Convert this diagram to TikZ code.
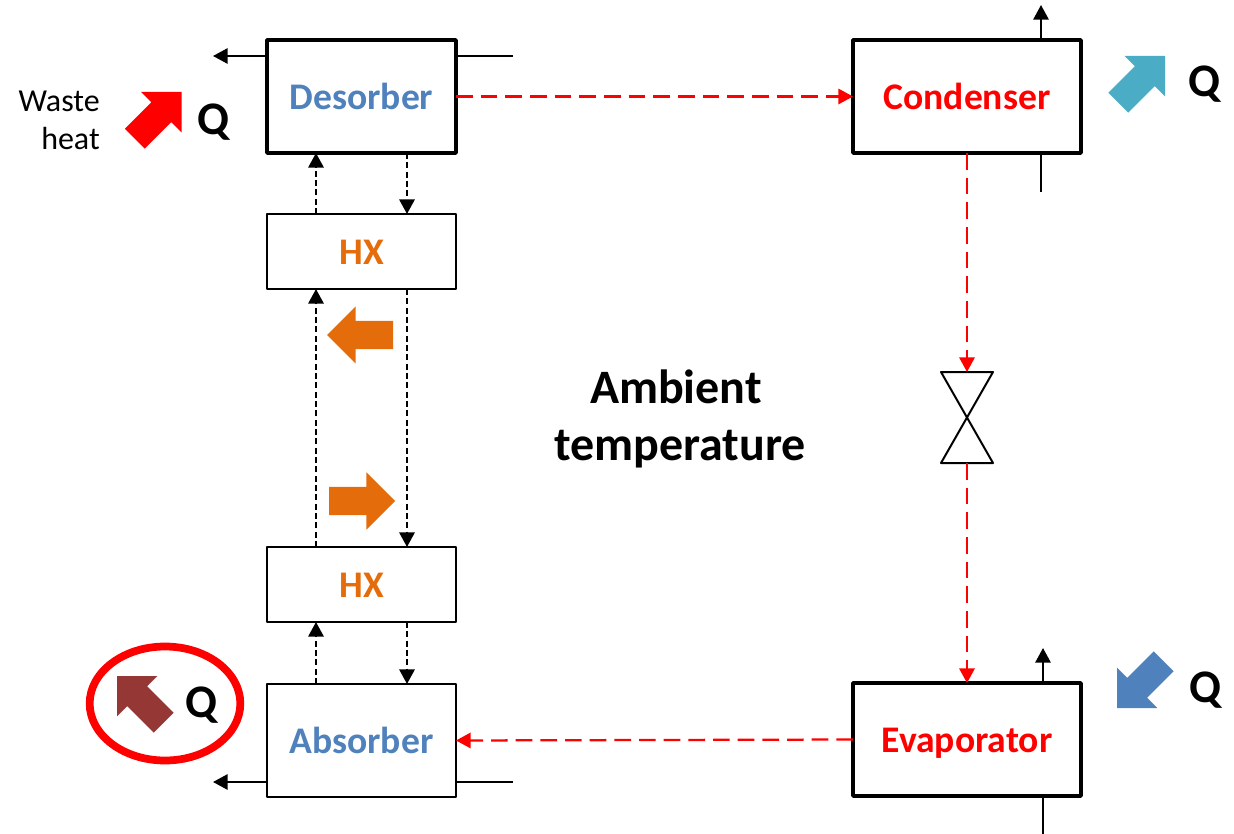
\documentclass[tikz,border=0pt]{standalone}
\usepackage{fontspec}
\setmainfont{Carlito}
\usetikzlibrary{positioning,arrows.meta,shapes.geometric,shapes.arrows}
\definecolor{unitblue}{HTML}{4F81BD}
\definecolor{hxorange}{HTML}{E46C0A}
\definecolor{coolteal}{HTML}{4BACC6}
\definecolor{rejectbrown}{HTML}{953735}

\begin{document}
\begin{tikzpicture}[
  x=0.75pt, y=-0.75pt,
  >={Triangle[length=11pt,width=11.5pt]},
  unitbox/.style={draw, line width=2.6pt, line join=round, outer sep=0pt, inner sep=0pt,
    minimum height=84.75pt, text height=19.7pt, text depth=0pt,
    font=\fontsize{28.2}{32}\selectfont\bfseries},
  hxbox/.style={unitbox, line width=1.8pt, minimum width=141.75pt, minimum height=56.25pt,
    text=hxorange},
  stream/.style={line width=1.5pt},
  solution/.style={stream, line width=1.7pt, dash pattern=on 4.5pt off 2.5pt},
  refrigerant/.style={stream, red, line width=1.7pt, dash pattern=on 12.5pt off 6pt},
  heatarrow/.style={single arrow, single arrow tip angle=90, single arrow head extend=10.9pt,
    minimum height=49.5pt, inner xsep=0pt, inner ysep=10.35pt, outer sep=0pt, anchor=tip},
  qlabel/.style={anchor=base, inner sep=0pt, font=\fontsize{35}{40}\selectfont\bfseries}
  ]
  \useasboundingbox (0,0) rectangle (1234,834);

  \node[unitbox, minimum width=141.75pt, text=unitblue] (desorber) at (361.5,96.5) {Desorber};
  \node[hxbox, below=45.75pt of desorber] (hxtop) {HX};
  \node[hxbox, below=193.5pt of hxtop] (hxbottom) {HX};
  \node[unitbox, line width=2pt, minimum width=141.75pt, text=unitblue, below=46.5pt of hxbottom] (absorber) {Absorber};
  \node[unitbox, minimum width=171pt, text=red, right=297.75pt of desorber] (condenser) {Condenser};
  \node[unitbox, minimum width=171pt, text=red, below=397.5pt of condenser] (evaporator) {Evaporator};

  \coordinate (upline) at (316,0);
  \coordinate (downline) at (407,0);
  \coordinate (desorberout) at (213,56);
  \coordinate (desorberin) at (513,56);
  \coordinate (absorberout) at (213,782);
  \coordinate (absorberin) at (513,782);
  \coordinate (condenserout) at (1041,5);
  \coordinate (condenserin) at (1041,192);
  \coordinate (evaporatorout) at (1043,648);
  \coordinate (evaporatorin) at (1043,834);
  \coordinate (valvetop) at (967,372);
  \coordinate (valvebottom) at (967,463);

  \draw[line width=1.5pt, line join=round] (941,372) -- (993,372) -- (941,463) -- (993,463) -- cycle;

  \draw[stream,->] (desorber.west |- desorberout) -- (desorberout);
  \draw[stream] (desorber.east |- desorberin) -- (desorberin);
  \draw[stream,->] (absorber.west |- absorberout) -- (absorberout);
  \draw[stream] (absorber.east |- absorberin) -- (absorberin);
  \draw[stream,->] (condenser.north -| condenserout) -- (condenserout);
  \draw[stream] (condenser.south -| condenserin) -- (condenserin);
  \draw[stream,->] (evaporator.north -| evaporatorout) -- (evaporatorout);
  \draw[stream] (evaporator.south -| evaporatorin) -- (evaporatorin);

  \draw[solution,->] (hxtop.north -| upline) -- (desorber.south -| upline);
  \draw[solution,->] (desorber.south -| downline) -- (hxtop.north -| downline);
  \draw[solution,->] (hxbottom.north -| upline) -- (hxtop.south -| upline);
  \draw[solution,->] (hxtop.south -| downline) -- (hxbottom.north -| downline);
  \draw[solution,->] (absorber.north -| upline) -- (hxbottom.south -| upline);
  \draw[solution,->] (hxbottom.south -| downline) -- (absorber.north -| downline);

  \draw[refrigerant,->] (desorber.east) -- (condenser.west);
  \draw[refrigerant,->] (condenser.south) -- (valvetop);
  \draw[refrigerant,->] (valvebottom) -- (evaporator.north);
  \draw[refrigerant,->] (evaporator.west) -- (absorber.east);

  \node[heatarrow, fill=red, rotate=45] (wastearrow) at (181.5,92) {};
  \node[heatarrow, fill=coolteal, rotate=45] (condenserarrow) at (1165,56) {};
  \node[heatarrow, fill=unitblue, rotate=225] (evaporatorarrow) at (1117,708) {};
  \node[heatarrow, fill=rejectbrown, rotate=135] (absorberarrow) at (117,676) {};
  \node[heatarrow, fill=hxorange, rotate=180] (hxleft) at (327,335) {};
  \node[heatarrow, fill=hxorange] (hxright) at (395,501) {};

  \node[qlabel] (qwaste) at (214,135) {Q};
  \node[qlabel] (qcondenser) at (1204,97) {Q};
  \node[qlabel] (qevaporator) at (1205,702) {Q};
  \node[qlabel] (qabsorber) at (201.5,717) {Q};

  \node[ellipse, draw=red, line width=5.8pt, inner sep=0pt, outer sep=0pt,
    minimum width=113pt, minimum height=85.5pt] (highlight) at (165,703.5) {};

  \node[anchor=east, align=right, inner sep=0pt,
    font=\fontsize{24}{28.5}\selectfont] (waste) at (100,120) {Waste\\heat};
  \node[align=center, inner sep=0pt,
    font=\fontsize{36}{43}\selectfont\bfseries] (ambient) at (680,419) {Ambient\hspace*{6pt}\\temperature};
\end{tikzpicture}
\end{document}
